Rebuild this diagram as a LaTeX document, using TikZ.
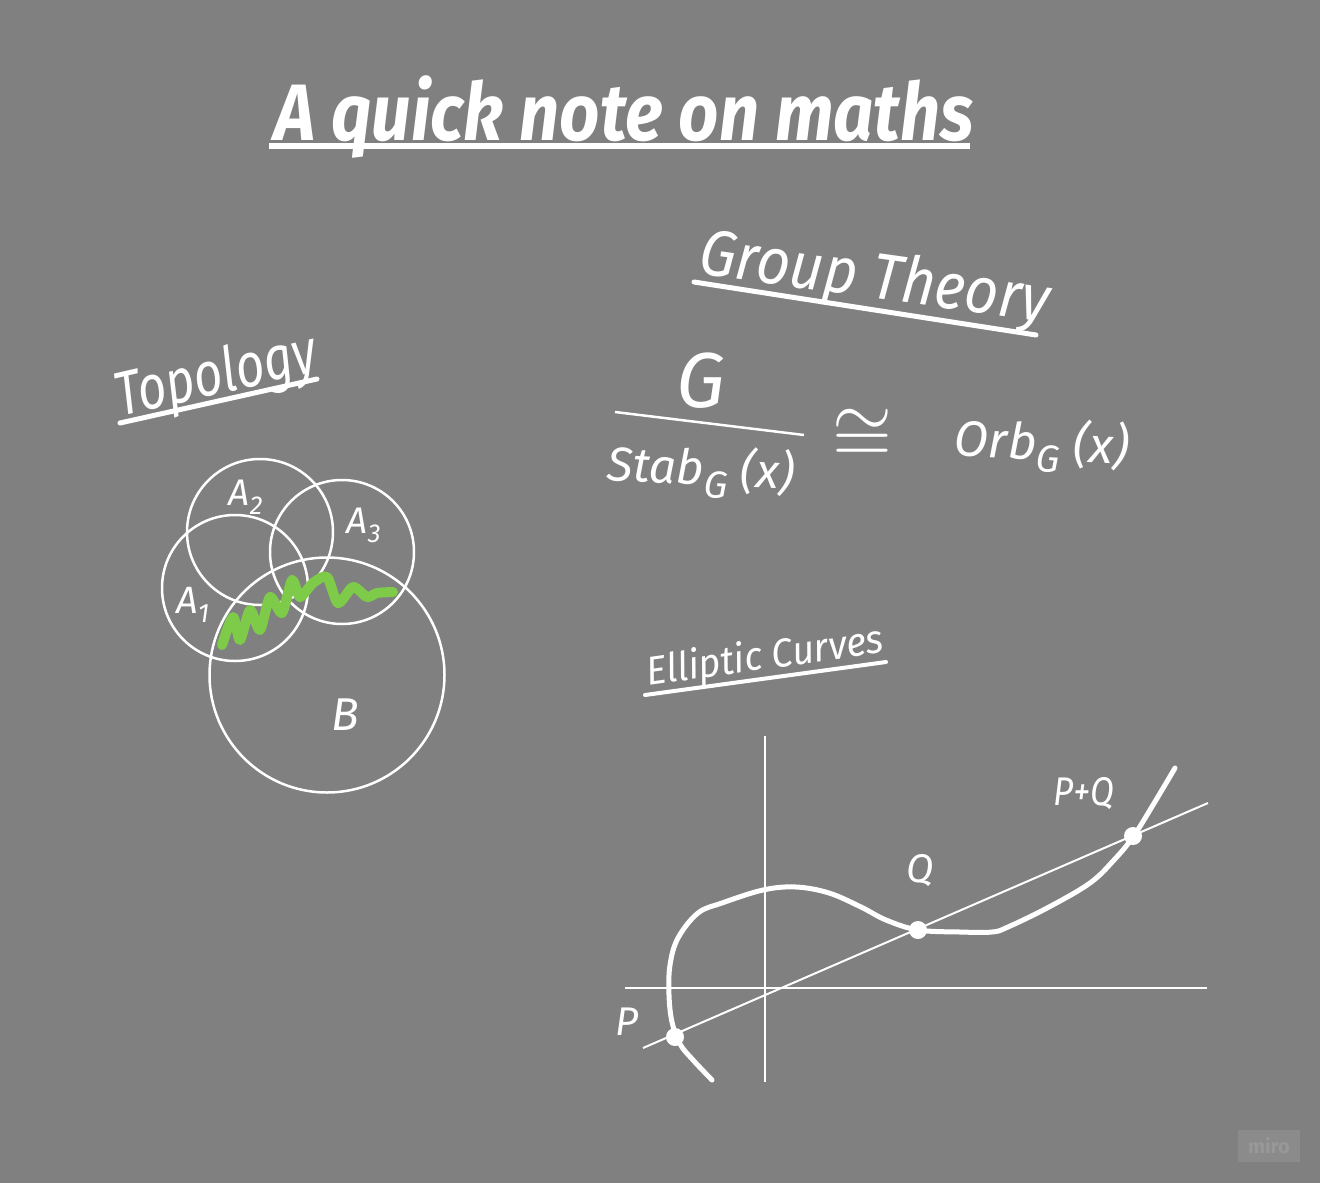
\documentclass[tikz,border=0pt]{standalone}
\usepackage{fontspec}
\setmainfont{Fira Sans}
\usepackage{graphicx}
\definecolor{mnboard}{HTML}{808080}
\definecolor{mngreen}{HTML}{7DCB48}
\definecolor{mnmiro}{HTML}{8B8B8B}
\definecolor{mnmirotext}{HTML}{989898}
\newcommand{\mnfs}[1]{\fontsize{#1}{#1}\selectfont}
\tikzset{
  mnhand/.style={text=white, inner sep=0pt, font=\itshape},
  mnrule/.style={draw=white, line width=5pt, line cap=round},
  mnring/.style={circle, draw=white, line width=2.5pt, inner sep=0pt},
  mnaxis/.style={draw=white, line width=2.5pt},
  mncurve/.style={draw=white, line width=5pt, line cap=round,
    line join=round},
  mndot/.style={circle, fill=white, minimum size=18pt, inner sep=0pt},
  mnwiggle/.style={draw=mngreen, line width=10pt, line cap=round,
    line join=round},
}
\begin{document}
\begin{tikzpicture}[x=1pt, y=-1pt]

% Board.
\useasboundingbox (0,0) rectangle (1320,1183);
\fill[mnboard] (0,0) rectangle (1320,1183);

% Title.
\node[mnhand, anchor=base] (title) at (624,140)
  {\mnfs{80}\bfseries\scalebox{0.88}[1]{A quick note on maths}};
\draw[mnrule, line width=6pt, line cap=butt] (269,146) -- (970,146);

% Topology: three small sets and a big one.
\node[mnhand, anchor=base, rotate=13] (topo) at (220,394)
  {\mnfs{62}\scalebox{0.8}[1]{Topology}};
\draw[mnrule] (120,423) -- (317,379);

\node[mnring, minimum size=146pt] (a2) at (260,532) {};
\node[mnring, minimum size=146pt] (a1) at (235,588) {};
\node[mnring, minimum size=144pt] (a3) at (342,552) {};
\node[mnring, minimum size=235pt] (b) at (327,675) {};
\draw[mnwiggle] plot[smooth, tension=0.45] coordinates {
  (222,645) (233,617) (240,640) (250,610) (260,630) (270,597)
  (282,613) (292,580) (300,597) (313,583) (327,577) (338,603)
  (353,587) (367,597) (377,593) (393,592)};
\node[mnhand, anchor=base] (la2) at (246,505) {\mnfs{37}A\textsubscript{2}};
\node[mnhand, anchor=base] (la3) at (364,533) {\mnfs{37}A\textsubscript{3}};
\node[mnhand, anchor=base] (la1) at (193,613) {\mnfs{38}A\textsubscript{1}};
\node[mnhand, anchor=base] (lb) at (345,730) {\mnfs{46}B};

% Group theory: orbit-stabiliser.
\node[mnhand, anchor=base, rotate=-8] (group) at (872,298)
  {\mnfs{65}\scalebox{0.9}[1]{Group Theory}};
\draw[mnrule] (694,282) -- (1036,335);

\node[mnhand, anchor=base] (num) at (701,407) {\mnfs{78}G};
\draw[white, line width=2.5pt] (615,412) -- (804,435);
\node[mnhand, anchor=base, rotate=-3] (den) at (700,485)
  {\mnfs{48}Stab\raisebox{-12pt}{\mnfs{38}G}\ (x)};
\node[text=white, inner sep=0pt] (iso) at (862,436)
  {\scalebox{7.7}{$\cong$}};
\node[mnhand, anchor=base, rotate=-3] (orb) at (1041,460)
  {\mnfs{50}Orb\raisebox{-12pt}{\mnfs{38}G}\ (x)};

% Elliptic curves: chord through P and Q meets the curve again.
\node[mnhand, anchor=base, rotate=8] (ell) at (767,669)
  {\mnfs{40}\scalebox{0.95}[1]{Elliptic Curves}};
\draw[mnrule, line width=4pt] (645,695) -- (886,662);

\coordinate (ytop) at (765,736);
\coordinate (ybot) at (765,1082);
\coordinate (xl) at (625,988);
\coordinate (xr) at (1207,988);
\draw[mnaxis] (ytop) -- (ybot);
\draw[mnaxis] (xl) -- (xr);

\coordinate (secl) at (643,1048);
\coordinate (secr) at (1208,803);
\draw[white, line width=2pt] (secl) -- (secr);

\draw[mncurve] plot[smooth, tension=0.6] coordinates {
  (712,1080) (693,1060) (680,1044) (672,1022) (669,995)
  (670,965) (678,938) (698,913) (722,903) (763,890) (796,887)
  (829,893) (861,907) (886,920) (918,930) (960,932) (992,932)
  (1008,927) (1049,907) (1090,883) (1114,860) (1133,837)
  (1153,805) (1175,768)};

\node[mndot] (dp) at (675,1037) {};
\node[mndot] (dq) at (918,930) {};
\node[mndot] (dpq) at (1133,836) {};
\node[mnhand, anchor=base] (lp) at (627,1035) {\mnfs{40}P};
\node[mnhand, anchor=base] (lq) at (920,882) {\mnfs{40}Q};
\node[mnhand, anchor=base] (lpq) at (1084,805)
  {\mnfs{40}\scalebox{0.87}[1]{P+Q}};

% Watermark.
\node[fill=mnmiro, text=mnmirotext, minimum width=62pt,
      minimum height=32pt, inner sep=0pt] (miro) at (1269,1146)
  {\mnfs{20}\bfseries miro};

\end{tikzpicture}
\end{document}
